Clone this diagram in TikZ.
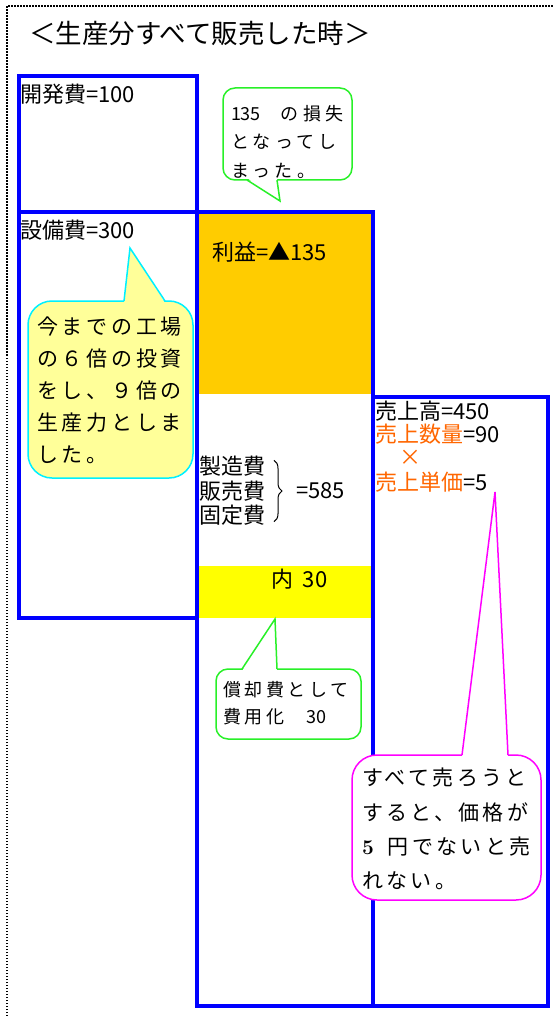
\documentclass[tikz,border=0pt]{standalone}
\usepackage{fontspec}
\newfontfamily\jp{Noto Sans CJK JP}
\usetikzlibrary{decorations.pathreplacing,calc}
\definecolor{bl}{RGB}{0,0,255}
\definecolor{orfill}{RGB}{255,204,0}
\definecolor{yel}{RGB}{255,255,0}
\definecolor{ortext}{RGB}{255,102,0}
\definecolor{gr}{RGB}{40,240,40}
\definecolor{cy}{RGB}{0,240,255}
\definecolor{ly}{RGB}{255,255,153}
\definecolor{mg}{RGB}{255,0,255}
\newcommand\nols[1]{{\addfontfeatures{LetterSpace=0}#1}}
\tikzset{
  bbox/.style={draw=bl, line width=4pt, anchor=north west, inner sep=0pt, outer sep=0pt},
  band/.style={anchor=north west, inner sep=0pt, outer sep=0pt, draw=none},
  lbl/.style={anchor=west, inner sep=0pt, outer sep=0pt, font=\jp\fontsize{22}{24.5}\selectfont},
  callbox/.style={anchor=north west, inner sep=0pt, outer sep=0pt, line width=1.5pt},
  calltext/.style={anchor=west, inner sep=0pt, outer sep=0pt, align=left},
  tail/.style={line width=1.5pt, line join=miter}
}
\begin{document}
\begin{tikzpicture}[x=1pt,y=-1pt]
\useasboundingbox (0,0) rectangle (553,1016);
% page border
\draw[line width=1.8pt, dash pattern=on 1.5pt off 1.5pt] (7,1016) -- (7,6) -- (553,6);
% title
\node[anchor=west, inner sep=0pt, font=\jp\fontsize{26.5}{30}\selectfont] (title) at (29,33) {＜生産分すべて販売した時＞};
% coloured bands
\node[band, fill=orfill, minimum width=176pt, minimum height=182pt] (profitband) at (197,212) {};
\node[band, fill=yel, minimum width=176pt, minimum height=52pt] (depband) at (197,566) {};
% boxes
\node[bbox, minimum width=178pt, minimum height=136pt] (dev) at (19,76) {};
\node[bbox, minimum width=178pt, minimum height=406pt] (equip) at (19,212) {};
\node[bbox, minimum width=176pt, minimum height=794pt] (cost) at (197,212) {};
\node[bbox, minimum width=175pt, minimum height=609pt] (sales) at (373,397) {};
% labels
\node[lbl] (devt) at (20,94) {開発費=100};
\node[lbl] (eqt) at (20,230) {設備費=300};
\node[lbl] (prt) at (212,252) {利益=▲135};
\node[lbl, align=left] (costs) at (199,491) {製造費\\販売費\\固定費};
\draw[decorate, decoration={brace, amplitude=8pt}, line width=1pt]
  ([xshift=9pt,yshift=-4pt]costs.north east) -- ([xshift=9pt,yshift=4pt]costs.south east);
\node[lbl] (c585) at (296,491) {=585};
\node[lbl] (uchi) at (271,579) {内\hspace{10pt}30};
\node[lbl] (uri) at (375,411) {売上高=450};
\node[lbl] (qty) at (375,434) {\textcolor{ortext}{売上数量}=90};
\node[lbl, anchor=center, text=ortext] (times) at (410,458) {×};
\node[lbl] (price) at (375,482) {\textcolor{ortext}{売上単価}=5};
% callout 1 (green, loss)
\node[callbox, draw=gr, fill=white, rounded corners=12pt, minimum width=129pt, minimum height=92pt] (c1) at (223,88) {};
\coordinate (c1tip) at (280,201);
\fill[white] ([xshift=24pt,yshift=2pt]c1.south west) -- (c1tip) -- ([xshift=54pt,yshift=2pt]c1.south west) -- cycle;
\draw[tail, gr] ([xshift=24pt]c1.south west) -- (c1tip) -- ([xshift=54pt]c1.south west);
\node[calltext, font=\jp\fontsize{18}{28.5}\selectfont\addfontfeatures{LetterSpace=24}] (c1t) at (231,141.5) {\nols{135}\hspace{20pt}の損失\\となってし\\まった。};
% callout 2 (cyan, investment)
\node[callbox, draw=cy, fill=ly, rounded corners=24pt, minimum width=165pt, minimum height=177pt] (c2) at (28,301) {};
\coordinate (c2tip) at (130,248);
\fill[ly] ([xshift=96pt,yshift=-2pt]c2.north west) -- (c2tip) -- ([xshift=137pt,yshift=-2pt]c2.north west) -- cycle;
\draw[tail, cy] ([xshift=96pt]c2.north west) -- (c2tip) -- ([xshift=137pt]c2.north west);
\node[calltext, font=\jp\fontsize{21}{32}\selectfont\addfontfeatures{LetterSpace=18}] (c2t) at (37,390) {今までの工場\\の６倍の投資\\をし、９倍の\\生産力としま\\した。};
% callout 3 (green, depreciation)
\node[callbox, draw=gr, fill=white, rounded corners=12pt, minimum width=145pt, minimum height=70pt] (c3) at (216,669) {};
\coordinate (c3tip) at (275,619);
\fill[white] ([xshift=26pt,yshift=-2pt]c3.north west) -- (c3tip) -- ([xshift=61pt,yshift=-2pt]c3.north west) -- cycle;
\draw[tail, gr] ([xshift=26pt]c3.north west) -- (c3tip) -- ([xshift=61pt]c3.north west);
\node[calltext, font=\jp\fontsize{18}{27}\selectfont\addfontfeatures{LetterSpace=20}] (c3t) at (223,703.5) {償却費として\\費用化\hspace{22pt}\nols{30}};
% callout 4 (magenta, price)
\node[callbox, draw=mg, fill=white, rounded corners=25pt, minimum width=189pt, minimum height=145pt] (c4) at (352,755) {};
\coordinate (c4tip) at (495,492);
\fill[white] ([xshift=110pt,yshift=-2pt]c4.north west) -- (c4tip) -- ([xshift=156pt,yshift=-2pt]c4.north west) -- cycle;
\draw[tail, mg] ([xshift=110pt]c4.north west) -- (c4tip) -- ([xshift=156pt]c4.north west);
\node[calltext, font=\jp\fontsize{21}{34.3}\selectfont\addfontfeatures{LetterSpace=16}] (c4t) at (362,829) {すべて売ろうと\\すると、価格が\\{\normalfont\bfseries\fontsize{21}{24}\selectfont 5}\hspace{14pt}円でないと売\\れない。};
\end{tikzpicture}
\end{document}
